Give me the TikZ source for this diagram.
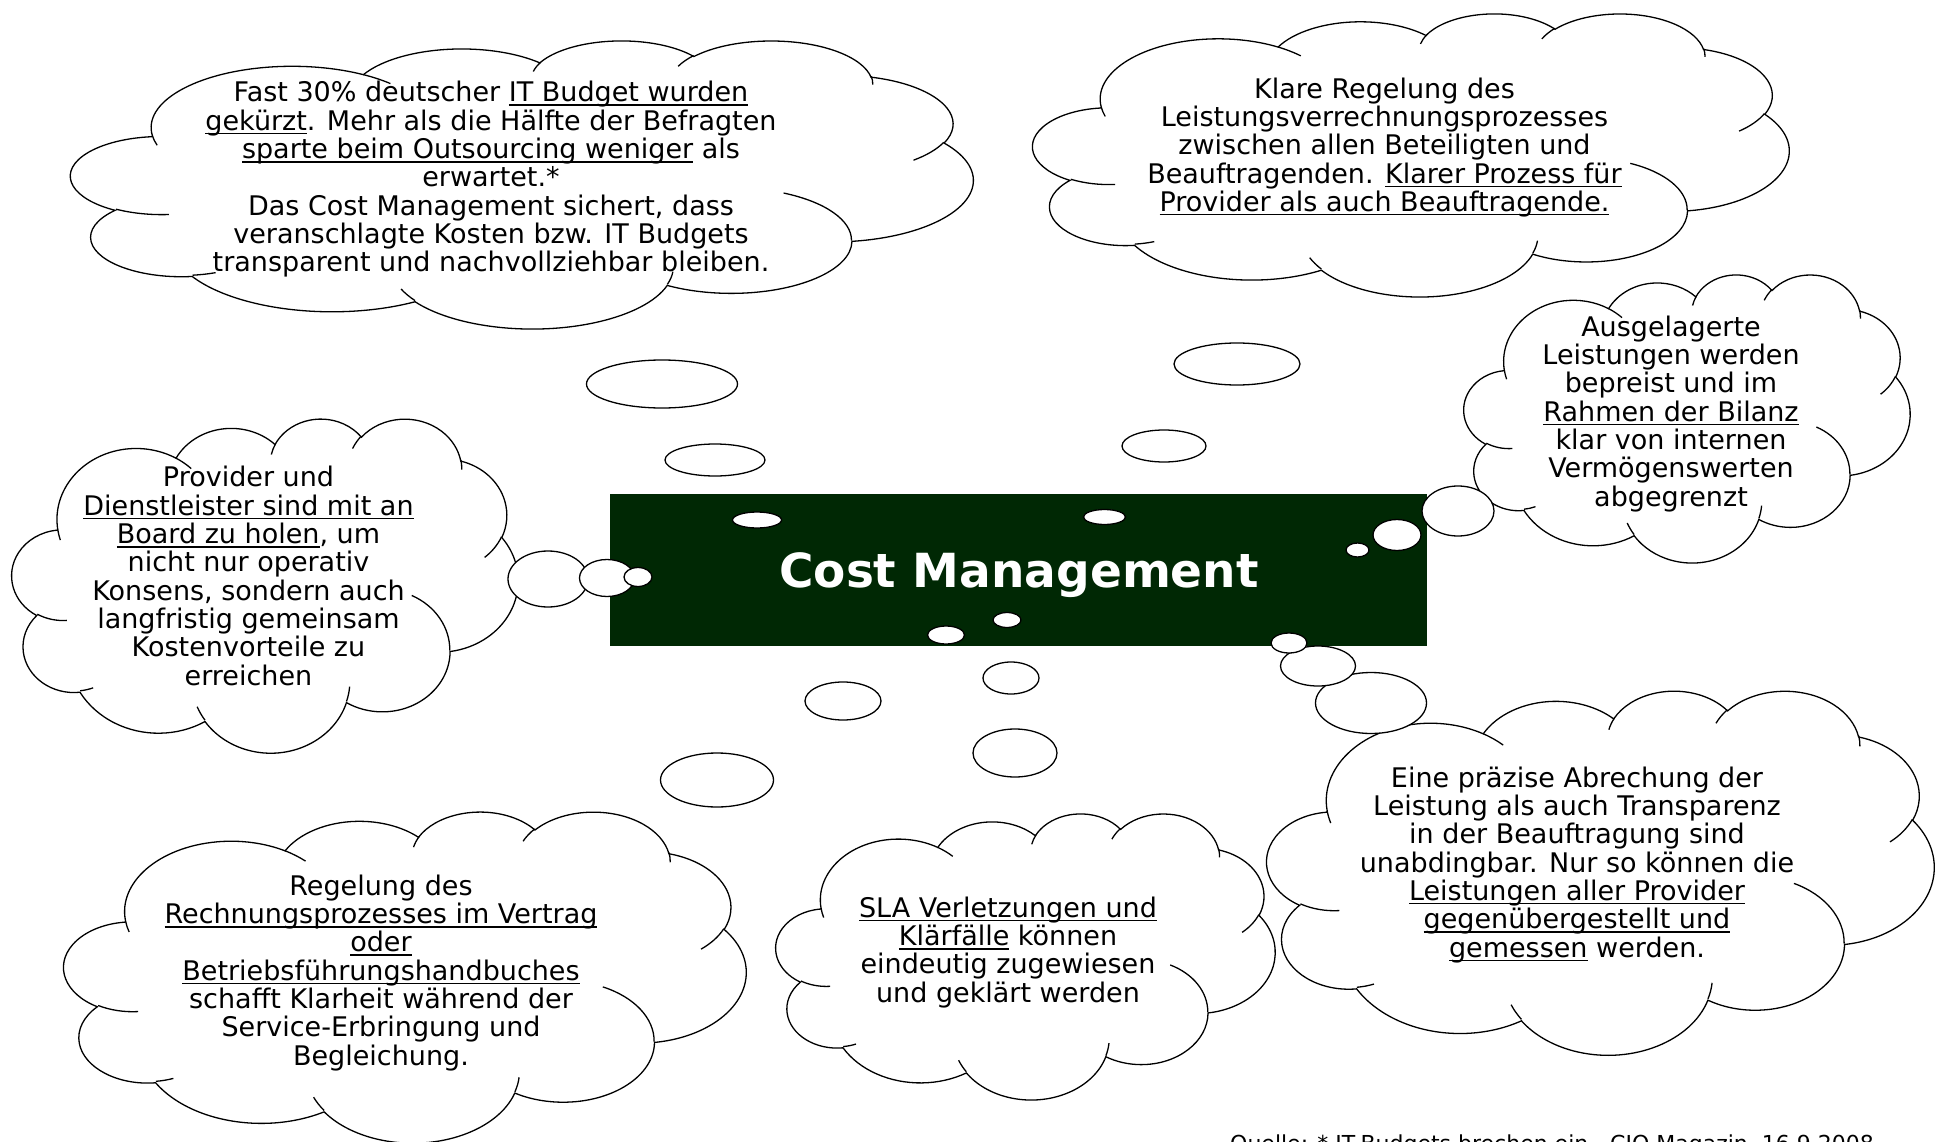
\documentclass[tikz,border=0pt]{standalone}
\usepackage{fontspec}
\setmainfont{DejaVu Sans}
\usetikzlibrary{calc}
\definecolor{board}{RGB}{0,40,4}
\newsavebox\ulbox
\newcommand\uline[1]{\sbox\ulbox{#1}\rlap{\rule[-4pt]{\wd\ulbox}{1.4pt}}\usebox\ulbox}
\newcommand\firstline{\rule{0pt}{22pt}}
\newcommand\oarc[4]{let \n1={atan2(#1*sin(#3),#2*cos(#3))}, \n2={atan2(#1*sin(#3+#4),#2*cos(#3+#4))}, \n3={mod(\n2-\n1+720,360)} in arc[x radius=#1, y radius=#2, start angle=\n1, delta angle=\n3]}
\newcommand\pptcloud[4]{%
\begin{scope}[shift={(#1,#2)}, xscale=#3/43.2, yscale=#4/43.2]
\draw[cloudline, fill=white] (3.9,14.37) \oarc{6.753}{9.19}{-190.4875}{123.7805} \oarc{5.333}{7.267}{-144.1024}{89.9452} \oarc{4.365}{5.945}{-145.8079}{99.7230} \oarc{4.857}{6.595}{-130.9861}{117.2417} \oarc{5.333}{7.273}{-78.7089}{109.0269} \oarc{6.775}{9.22}{-46.2673}{130.2690} \oarc{5.785}{7.867}{0.6250}{114.0333} \oarc{6.752}{9.215}{22.4516}{115.1726} \oarc{7.72}{10.543}{66.2426}{75.7110} \oarc{4.36}{5.918}{-274.9421}{146.7356} \oarc{4.345}{5.945}{-246.8285}{152.5189} -- cycle;
\draw[cloudline] (4.693,26.177) \oarc{4.345}{5.945}{86.7420}{26.4295} (6.928,34.899) \oarc{4.36}{5.918}{73.6105}{11.4475} (16.478,39.09) \oarc{6.752}{9.215}{137.6242}{14.0811} (28.827,34.751) \oarc{6.752}{9.215}{6.4533}{15.9984} (34.129,22.954) \oarc{5.785}{7.867}{-70.2924}{70.9174} (41.798,15.354) \oarc{5.333}{7.273}{30.3180}{27.7515} (38.324,5.426) \oarc{4.857}{6.595}{-13.7443}{14.8589} (29.078,3.952) \oarc{4.857}{6.595}{-149.1815}{18.1954} (22.141,4.72) \oarc{4.365}{5.945}{-163.4943}{17.6864} (14.0,5.192) \oarc{6.753}{9.19}{-66.7070}{12.3194} (4.127,15.789) \oarc{6.753}{9.19}{157.6544}{11.8582};
\end{scope}}
\begin{document}
\begin{tikzpicture}[x=1pt, y=-1pt, cloudline/.style={line width=1.3pt}, bubble/.style={draw, line width=1.3pt, fill=white}, said/.style={align=center, anchor=north, inner sep=0pt, font=\fontsize{27}{28.3}\selectfont}]
\useasboundingbox (0,0) rectangle (1936,1142);
\node[fill=board, minimum width=817pt, minimum height=152pt, inner sep=0pt] (board) at (1018.5,570) {};
\node[anchor=base, text=white, font=\bfseries\fontsize{47}{56}\selectfont] (title) at (1019,587) {Cost Management};
\pptcloud{71}{40}{902}{288}
\pptcloud{1033}{13}{756}{283}
\pptcloud{1464}{274}{446}{288}
\pptcloud{12}{418}{506}{334}
\pptcloud{64}{811}{682}{331}
\pptcloud{776}{813}{499}{286}
\pptcloud{1267}{690}{667}{364}
\node[said] (budget) at (491,79.7) {\firstline Fast 30\% deutscher \uline{IT Budget wurden}\\ \uline{gekürzt}. Mehr als die Hälfte der Befragten\\ \uline{sparte beim Outsourcing weniger} als\\ erwartet.*\\ Das Cost Management sichert, dass\\ veranschlagte Kosten bzw. IT Budgets\\ transparent und nachvollziehbar bleiben.};
\node[said] (regelung) at (1384.5,76) {\firstline Klare Regelung des\\ Leistungsverrechnungsprozesses\\ zwischen allen Beteiligten und\\ Beauftragenden. \uline{Klarer Prozess für}\\ \uline{Provider als auch Beauftragende.}};
\node[said] (bilanz) at (1671,314) {\firstline Ausgelagerte\\ Leistungen werden\\ bepreist und im\\ \uline{Rahmen der Bilanz}\\ klar von internen\\ Vermögenswerten\\ abgegrenzt};
\node[said] (provider) at (248.5,464.7) {\firstline Provider und\\ \uline{Dienstleister sind mit an}\\ \uline{Board zu holen}, um\\ nicht nur operativ\\ Konsens, sondern auch\\ langfristig gemeinsam\\ Kostenvorteile zu\\ erreichen};
\node[said] (vertrag) at (381,873) {\firstline Regelung des\\ \uline{Rechnungsprozesses im Vertrag}\\ \uline{oder}\\ \uline{Betriebsführungshandbuches}\\ schafft Klarheit während der\\ Service-Erbringung und\\ Begleichung.};
\node[said] (sla) at (1008,895) {\firstline\uline{SLA Verletzungen und}\\ \uline{Klärfälle} können\\ eindeutig zugewiesen\\ und geklärt werden};
\node[said] (abrechnung) at (1577,765) {\firstline Eine präzise Abrechung der\\ Leistung als auch Transparenz\\ in der Beauftragung sind\\ unabdingbar. Nur so können die\\ \uline{Leistungen aller Provider}\\ \uline{gegenübergestellt und}\\ \uline{gemessen} werden.};
\draw[bubble] (662,384) ellipse [x radius=75.5, y radius=24];
\draw[bubble] (715,460) ellipse [x radius=50, y radius=16];
\draw[bubble] (757,520) ellipse [x radius=24.5, y radius=8];
\draw[bubble] (1237,364) ellipse [x radius=63, y radius=21];
\draw[bubble] (1164,446) ellipse [x radius=42, y radius=16];
\draw[bubble] (1104.5,517) ellipse [x radius=21, y radius=7.5];
\draw[bubble] (1458,511) ellipse [x radius=36, y radius=25];
\draw[bubble] (1397,535) ellipse [x radius=24, y radius=15.5];
\draw[bubble] (1357.5,550) ellipse [x radius=11.5, y radius=7];
\draw[bubble] (548,579) ellipse [x radius=40, y radius=28];
\draw[bubble] (607,578) ellipse [x radius=27.5, y radius=18.5];
\draw[bubble] (638,577) ellipse [x radius=14, y radius=9.5];
\draw[bubble] (717,780) ellipse [x radius=56.5, y radius=27];
\draw[bubble] (843,701) ellipse [x radius=38, y radius=19];
\draw[bubble] (946,635) ellipse [x radius=18.5, y radius=9];
\draw[bubble] (1015,753) ellipse [x radius=42, y radius=24];
\draw[bubble] (1011,678) ellipse [x radius=28, y radius=16];
\draw[bubble] (1007,620) ellipse [x radius=14, y radius=7.5];
\draw[bubble] (1371,703) ellipse [x radius=55.5, y radius=30.5];
\draw[bubble] (1318,666) ellipse [x radius=37.5, y radius=20];
\draw[bubble] (1289,643) ellipse [x radius=18, y radius=10];
\node[anchor=base west, inner sep=0pt, font=\fontsize{22}{26}\selectfont] (quelle) at (1230,1151) {Quelle: * IT-Budgets brechen ein - CIO Magazin, 16.9.2008};
\end{tikzpicture}
\end{document}
